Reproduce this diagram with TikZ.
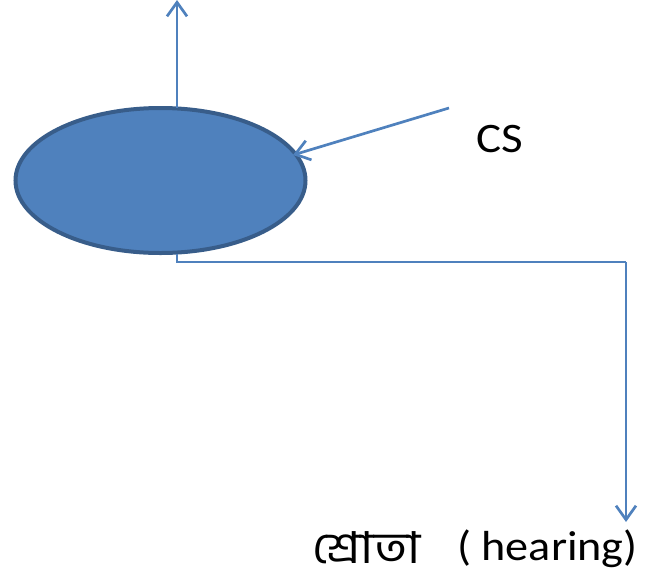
\documentclass[tikz,border=0pt]{standalone}
\usepackage{graphicx}
\usepackage{fontspec}
\setmainfont{Carlito}
\newfontfamily\bngfont[Script=Bengali]{Hind Siliguri}
\usetikzlibrary{arrows.meta,shapes.geometric}
\definecolor{fillblue}{HTML}{4F81BD}
\definecolor{edgeblue}{HTML}{385D8A}
\tikzset{
  conn/.style={draw=fillblue, line width=2.7pt, -{Straight Barb[length=14pt,width=20pt,line width=2.7pt]}},
  plain/.style={draw=fillblue, line width=2.7pt},
  lbl/.style={font=\fontsize{42}{48}\selectfont, inner sep=0pt}
}
\begin{document}
\begin{tikzpicture}[x=1pt,y=-1pt]
\useasboundingbox (0,0) rectangle (658,571);
\node[ellipse, draw=edgeblue, line width=4pt, fill=fillblue, minimum width=290pt, minimum height=145pt, inner sep=0pt] (ell) at (160.5,180.5) {};
\coordinate (top) at (177,0);
\coordinate (upstart) at (177,108);
\coordinate (csstart) at (449,108);
\coordinate (cshit) at (293,155);
\coordinate (bstart) at (177,254);
\coordinate (b1) at (177,262);
\coordinate (b2) at (626,262);
\coordinate (bend) at (626,522);
\draw[conn] (upstart) -- (top);
\draw[conn] (csstart) -- (cshit);
\draw[plain] (bstart) -- (b1) -- (b2);
\draw[conn] (b2) -- (bend);
\node[lbl, anchor=base west] (cs) at (476,152) {\scalebox{1.12}[1]{CS}};
\node[lbl, anchor=base west] (bng) at (312,563) {\scalebox{1.14}[1]{\fontsize{44}{50}\selectfont\bngfont শ্রোতা}};
\node[lbl, anchor=base west] (hear) at (457,560) {\scalebox{1.1}[1]{( hearing)}};
\end{tikzpicture}
\end{document}
